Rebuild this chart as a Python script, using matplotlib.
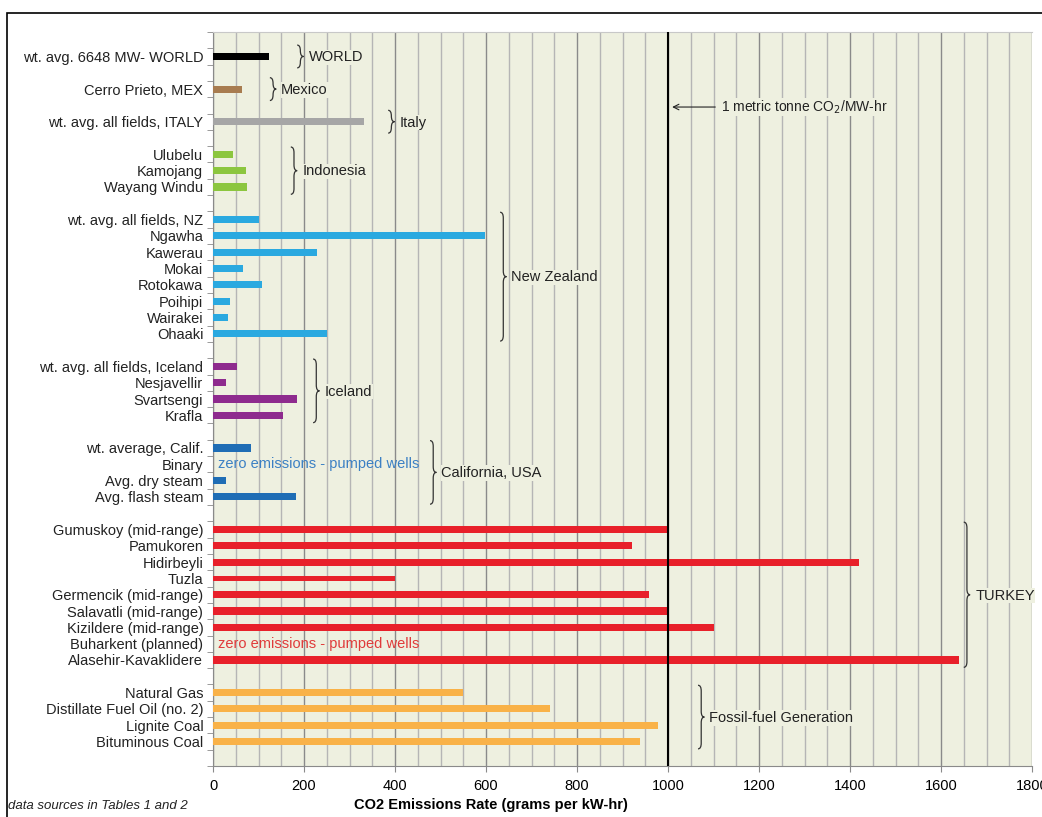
import matplotlib
matplotlib.use("Agg")
import matplotlib.pyplot as plt
from matplotlib.path import Path
from matplotlib.patches import PathPatch, Rectangle

plt.rcParams['font.family'] = ['Liberation Sans', 'DejaVu Sans']

# ---- data (g CO2 per kW-hr) ----
world_labels = ["wt. avg. 6648 MW- WORLD"]
world_vals = [122]
mexico_labels = ["Cerro Prieto, MEX"]
mexico_vals = [64]
italy_labels = ["wt. avg. all fields, ITALY"]
italy_vals = [332]
indonesia_labels = ["Ulubelu", "Kamojang", "Wayang Windu"]
indonesia_vals = [43, 72, 75]
nz_labels = ["wt. avg. all fields, NZ", "Ngawha", "Kawerau", "Mokai", "Rotokawa",
             "Poihipi", "Wairakei", "Ohaaki"]
nz_vals = [102, 598, 228, 67, 107, 37, 33, 251]
iceland_labels = ["wt. avg. all fields, Iceland", "Nesjavellir", "Svartsengi", "Krafla"]
iceland_vals = [52, 28, 184, 154]
calif_labels = ["wt. average, Calif.", "Binary", "Avg. dry steam", "Avg. flash steam"]
calif_vals = [83, 0, 28, 182]
turkey_labels = ["Gumuskoy (mid-range)", "Pamukoren", "Hidirbeyli", "Tuzla",
                 "Germencik (mid-range)", "Salavatli (mid-range)", "Kizildere (mid-range)",
                 "Buharkent (planned)", "Alasehir-Kavaklidere"]
turkey_vals = [1000, 920, 1420, 400, 958, 1000, 1100, 0, 1640]
fossil_labels = ["Natural Gas", "Distillate Fuel Oil (no. 2)", "Lignite Coal", "Bituminous Coal"]
fossil_vals = [549, 740, 978, 938]

group_names = ["WORLD", "Mexico", "Italy", "Indonesia", "New Zealand", "Iceland",
               "California, USA", "TURKEY", "Fossil-fuel Generation"]
group_labels = [world_labels, mexico_labels, italy_labels, indonesia_labels, nz_labels,
                iceland_labels, calif_labels, turkey_labels, fossil_labels]
group_vals = [world_vals, mexico_vals, italy_vals, indonesia_vals, nz_vals,
              iceland_vals, calif_vals, turkey_vals, fossil_vals]
group_colors = ["#000000", "#a87c50", "#a6a6a6", "#8cc63f", "#2aa9e0", "#8e2b8e",
                "#1f6db5", "#e8202a", "#f9b248"]
# x where each brace sits
brace_x = [185, 125, 385, 171, 631, 220, 477, 1650, 1066]

bg = "#eef0e0"

fig = plt.figure(figsize=(10.42, 8.17), dpi=100)
fig.patches.append(Rectangle((7 / 1042, -0.1), 1.2, 1 - 13 / 817 + 0.1, transform=fig.transFigure,
                             fill=False, edgecolor="black", lw=1.2))
ax = fig.add_axes([213 / 1042, 1 - 766 / 817, 819 / 1042, 734 / 817])
ax.set_facecolor(bg)


def brace(ax, x, y0, y1, w=14, d=0.35):
    xm = x + w / 2
    ym = (y0 + y1) / 2
    verts = [(x, y0), (xm, y0), (xm, y0 + d),
             (xm, ym - d), (xm, ym), (x + w, ym),
             (xm, ym), (xm, ym + d),
             (xm, y1 - d), (xm, y1), (x, y1)]
    codes = [Path.MOVETO, Path.CURVE3, Path.CURVE3,
             Path.LINETO, Path.CURVE3, Path.CURVE3,
             Path.CURVE3, Path.CURVE3,
             Path.LINETO, Path.CURVE3, Path.CURVE3]
    ax.add_patch(PathPatch(Path(verts, codes), fill=False, edgecolor="#333333", lw=0.9, zorder=4))


row = 1
ytick_pos = []
ytick_lab = []
for name, labs, vals, col, bx in zip(group_names, group_labels, group_vals, group_colors, brace_x):
    start = row
    for lab, v in zip(labs, vals):
        h = 0.3 if lab == "Tuzla" else 0.44
        if v > 0:
            ax.barh(row, v, height=h, color=col, zorder=3)
        ytick_pos.append(row)
        ytick_lab.append(lab)
        row += 1
    end = row - 1
    span = 0.7 if start == end else 0.45
    brace(ax, bx, start - span, end + span)
    ax.text(bx + 25, (start + end) / 2 + 0.05, name, va="center", ha="left", fontsize=10.5,
            color="#222222", zorder=5,
            bbox=dict(facecolor=bg, edgecolor="none", pad=0.5))
    row += 1

zero_txt = "zero emissions - pumped wells"
ax.text(10, ytick_pos[ytick_lab.index("Binary")], zero_txt, color="#3b80c4",
        fontsize=10.5, va="center", zorder=5)
ax.text(10, ytick_pos[ytick_lab.index("Buharkent (planned)")], zero_txt,
        color="#e03a3a", fontsize=10.5, va="center", zorder=5)

ax.axvline(1000, color="black", lw=1.5, zorder=4)
ax.annotate("", xy=(1003, 4.1), xytext=(1110, 4.1),
            arrowprops=dict(arrowstyle="->", color="#222222", lw=0.8), zorder=5)
ax.text(1116, 4.1, "1 metric tonne CO$_2$/MW-hr", fontsize=10, va="center", ha="left",
        color="#222222", zorder=5, bbox=dict(facecolor=bg, edgecolor="none", pad=0.5))

ax.set_xlim(0, 1800)
ax.set_ylim(row - 0.5, -0.5)
ax.set_xticks(range(0, 1801, 200))
ax.set_xticks(range(0, 1801, 50), minor=True)
ax.grid(True, which="major", axis="x", color="#8a8a8a", lw=1.0, zorder=0)
ax.grid(True, which="minor", axis="x", color="#b5b5b5", lw=1.0, zorder=0)
ax.set_axisbelow(True)

ax.set_yticks(ytick_pos)
ax.set_yticklabels(ytick_lab, fontsize=10.5, color="#222222")
ax.set_yticks([r - 0.5 for r in range(row + 1)], minor=True)
ax.tick_params(axis="y", which="major", length=0, pad=7)
ax.tick_params(axis="y", which="minor", length=4, color="#8a8a8a", direction="out")
ax.tick_params(axis="x", which="major", length=4, color="#8a8a8a", labelsize=10.5, pad=5)
ax.tick_params(axis="x", which="minor", length=0)

for s in ["left", "bottom"]:
    ax.spines[s].set_color("#8a8a8a")
ax.spines["top"].set_color("#c8c8c8")
ax.spines["right"].set_visible(False)

ax.set_xlabel("CO2 Emissions Rate (grams per kW-hr)", fontsize=10.5, fontweight="bold")
ax.xaxis.set_label_coords(278 / 819, -32 / 734)
fig.text(8 / 1042, 1 - 806 / 817, "data sources in Tables 1 and 2", fontsize=9.5,
         style="italic", va="center", color="#222222")

fig.savefig("out.png", dpi=100)
